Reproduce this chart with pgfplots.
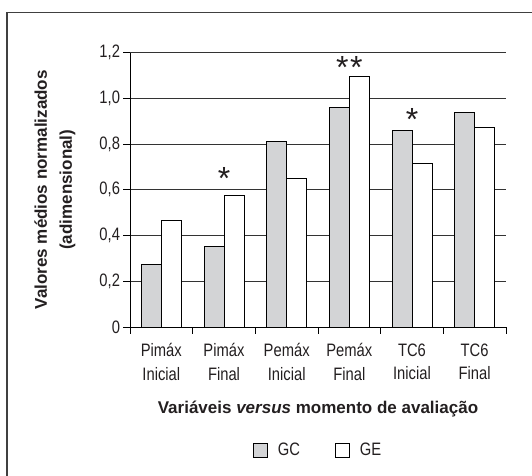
\documentclass[border=0pt]{standalone}
\usepackage{fontspec}
\setmainfont{Liberation Sans}
\newfontfamily\cond[FakeStretch=0.82]{Liberation Sans}
\usepackage{pgfplots}
\usepackage{pgfplotstable}
\pgfplotsset{compat=1.18}
\definecolor{gcgray}{RGB}{211,212,214}
\definecolor{ink}{RGB}{35,31,32}

\pgfplotstableread{
x gc ge
0 0.274 0.467
1 0.354 0.573
2 0.813 0.649
3 0.960 1.095
4 0.861 0.716
5 0.939 0.873
}\datatable

\pgfplotstableread{
x y
1 0.601
2.89 1.085
3.11 1.085
4 0.859
}\stars

\begin{document}
\begin{tikzpicture}
\path[use as bounding box] (0pt,0pt) rectangle (532pt,475pt);
\draw[line width=1.3pt, black!75] (7pt,-20pt) -- (7pt,462.5pt) -- (560pt,462.5pt);
\begin{axis}[
  at={(130pt,148pt)}, anchor=south west,
  scale only axis, width=376pt, height=274.5pt,
  xmin=-0.5, xmax=5.5, ymin=0, ymax=1.2,
  axis x line=bottom, axis y line=left,
  axis line style={-, line width=0.9pt, black},
  tick align=outside, major tick length=6.5pt,
  tick style={line width=0.9pt, black},
  ytick={0,0.2,0.4,0.6,0.8,1.0,1.2},
  yticklabels={0,{0,2},{0,4},{0,6},{0,8},{1,0},{1,2}},
  ymajorgrids, grid style={line width=0.7pt, black!80},
  xtick={-0.5,0.5,1.5,2.5,3.5,4.5,5.5},
  xticklabels={},
  extra x ticks={0,1,2,3,4,5},
  extra x tick labels={{Pimáx\\Inicial},{Pimáx\\Final},{Pemáx\\Inicial},{Pemáx\\Final},{TC6\\Inicial},{TC6\\Final}},
  extra x tick style={major tick length=0pt},
  tick label style={font=\cond\fontsize{18}{23.5}\selectfont, text=ink},
  x tick label style={align=center, yshift=-13pt},
  every axis y label/.style={at={(axis description cs:-0.2,0.5)}, rotate=90, anchor=center},
  ylabel={Valores médios normalizados\\(adimensional)},
  ylabel style={align=center, font=\bfseries\fontsize{17}{25}\selectfont, text=ink},
  every axis x label/.style={at={(axis description cs:0.5,-0.297)}, anchor=center},
  xlabel={Variáveis \textit{versus} momento de avaliação},
  xlabel style={font=\bfseries\fontsize{17}{20}\selectfont, text=ink},
  legend style={at={(0.5,-0.448)}, anchor=center, draw=none, fill=none,
    font=\cond\fontsize{18}{20}\selectfont, text=ink,
    /tikz/every even column/.append style={column sep=33pt}},
  legend columns=2,
  legend image code/.code={\draw[#1, line width=0.9pt] (0pt,-7pt) rectangle (14pt,7pt); \path (22pt,0pt);},
  clip=false,
]
\addplot[ybar, bar width=20pt, bar shift=-10pt, fill=gcgray, draw=black, line width=0.9pt]
  table[x=x, y=gc] {\datatable};
\addlegendentry{GC}
\addplot[ybar, bar width=20pt, bar shift=10pt, fill=white, draw=black, line width=0.9pt]
  table[x=x, y=ge] {\datatable};
\addlegendentry{GE}
\addplot[only marks, mark=none, nodes near coords={*}, forget plot,
  every node near coord/.style={anchor=base, inner sep=0pt, text=ink, font=\fontsize{32}{32}\selectfont}]
  table[x=x, y=y] {\stars};
\end{axis}
\end{tikzpicture}
\end{document}
